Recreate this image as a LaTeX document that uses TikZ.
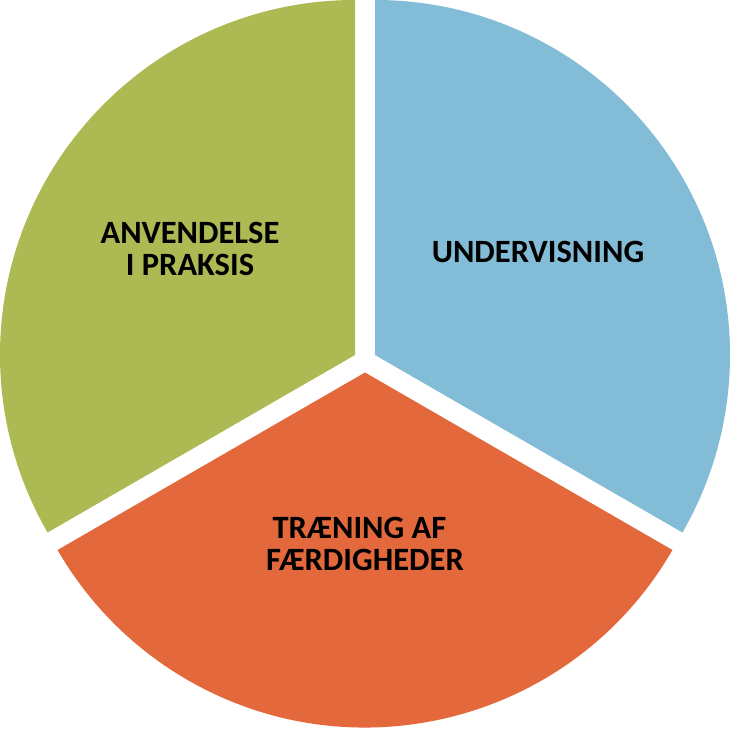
\documentclass[tikz,border=0pt]{standalone}
\usepackage{fontspec}
\setmainfont{Carlito}
\definecolor{pieblue}{RGB}{131,188,214}
\definecolor{pieorange}{RGB}{227,104,59}
\definecolor{piegreen}{RGB}{173,185,82}
\begin{document}
\begin{tikzpicture}[x=1pt,y=1pt,
  lbl/.style={anchor=base,inner sep=0pt,font=\fontsize{32.5}{34}\selectfont\bfseries,text=black}]
\useasboundingbox (0,0) rectangle (731,729);
% sectors
\fill[pieblue] (375,374) -- ++(90:355) arc[start angle=90,end angle=-30,radius=355] -- cycle;
\fill[piegreen] (355,374) -- ++(90:355) arc[start angle=90,end angle=210,radius=355] -- cycle;
\fill[pieorange] (365,356.5) -- ++(-30:355) arc[start angle=-30,end angle=-150,radius=355] -- cycle;
% labels
\node[lbl] (und) at (538,466.3) {UNDERVISNING};
\node[lbl] (anv1) at (190,485.7) {ANVENDELSE};
\node[lbl] (anv2) at (190,453.3) {I PRAKSIS};
\node[lbl] (tr1) at (359.4,190.7) {TRÆNING AF};
\node[lbl] (tr2) at (365,158.3) {FÆRDIGHEDER};
\end{tikzpicture}
\end{document}
